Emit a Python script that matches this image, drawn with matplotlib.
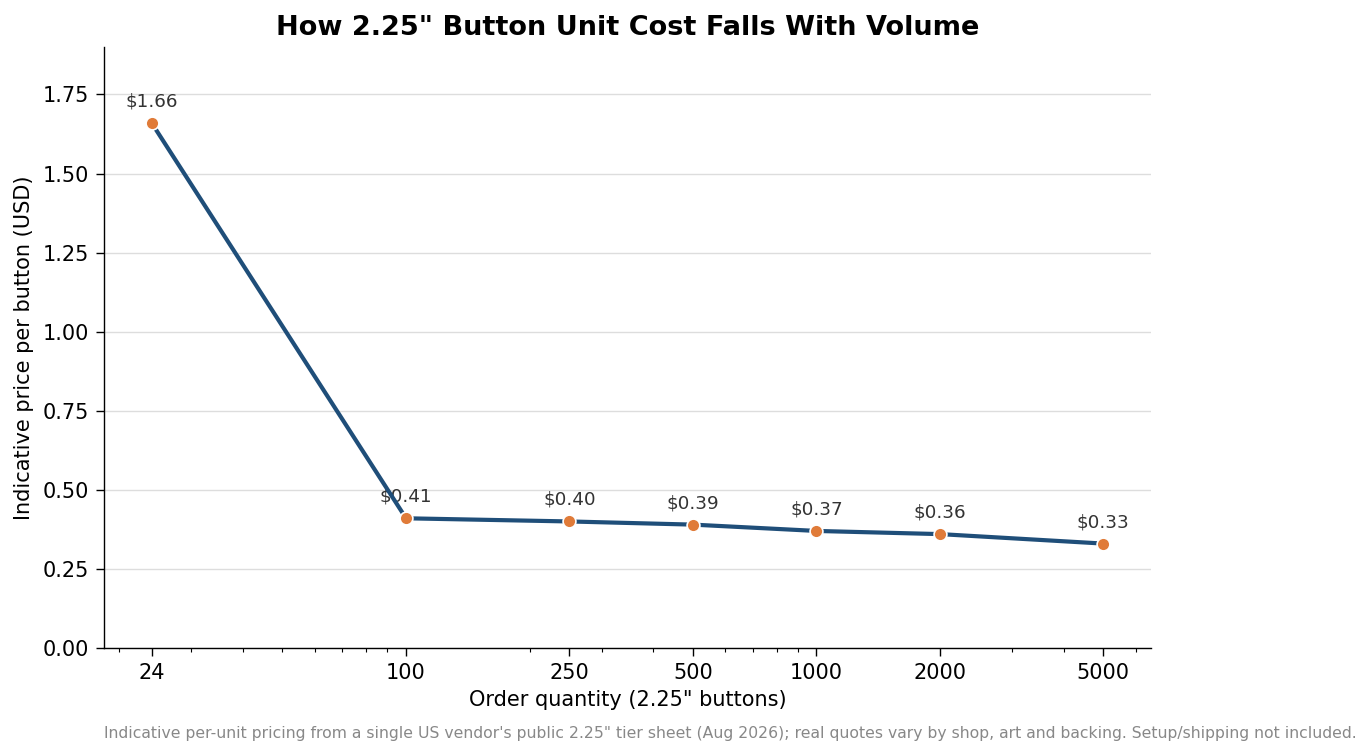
import numpy as np
import matplotlib.pyplot as plt
from matplotlib.ticker import FixedLocator, FixedFormatter, NullFormatter

quantities = [24, 100, 250, 500, 1000, 2000, 5000]
unit_prices = [1.66, 0.41, 0.40, 0.39, 0.37, 0.36, 0.33]
tick_labels = ['24', '100', '250', '500', '1000', '2000', '5000']

fig = plt.figure(figsize=(13.71, 7.56), dpi=100)
ax = fig.add_axes([0.0759, 0.1429, 0.7636, 0.7949])

ax.plot(quantities, unit_prices, color='#1f4e79', linewidth=3.0, zorder=2)
ax.scatter(quantities, unit_prices, s=85, color='#e07b39', edgecolor='white',
           linewidth=1.2, zorder=3)

for q, p in zip(quantities, unit_prices):
    ax.annotate('$' + format(p, '.2f'), (q, p), textcoords='offset points',
                xytext=(0, 9), ha='center', va='bottom', fontsize=13.2, color='#333333',
                zorder=1)

ax.set_xscale('log')
ax.xaxis.set_major_locator(FixedLocator(quantities))
ax.xaxis.set_major_formatter(FixedFormatter(tick_labels))
ax.xaxis.set_minor_formatter(NullFormatter())
ax.set_ylim(0, 1.9)
ax.set_yticks(np.arange(0, 1.76, 0.25))
ax.yaxis.set_major_formatter(plt.FuncFormatter(lambda v, _: format(v, '.2f')))
ax.tick_params(axis='both', which='major', labelsize=15, length=5.5, width=1.0, pad=5.5)
ax.tick_params(axis='both', which='minor', length=3, width=0.8)

ax.grid(axis='y', color='#dddddd', linewidth=1)
ax.set_axisbelow(True)
ax.spines['top'].set_visible(False)
ax.spines['right'].set_visible(False)
ax.spines['left'].set_linewidth(1.0)
ax.spines['bottom'].set_linewidth(1.0)

ax.set_xlabel('Order quantity (2.25" buttons)', fontsize=15, labelpad=5)
ax.set_ylabel('Indicative price per button (USD)', fontsize=15, labelpad=6)
ax.set_title('How 2.25" Button Unit Cost Falls With Volume', fontsize=19.5,
             fontweight='bold', pad=9)

fig.text(0.0759, 0.02, "Indicative per-unit pricing from a single US vendor's public 2.25\" tier sheet "
         "(Aug 2026); real quotes vary by shop, art and backing. Setup/shipping not included.",
         fontsize=11.27, color='#888888', ha='left', va='bottom')

fig.savefig('out.png', dpi=100)
